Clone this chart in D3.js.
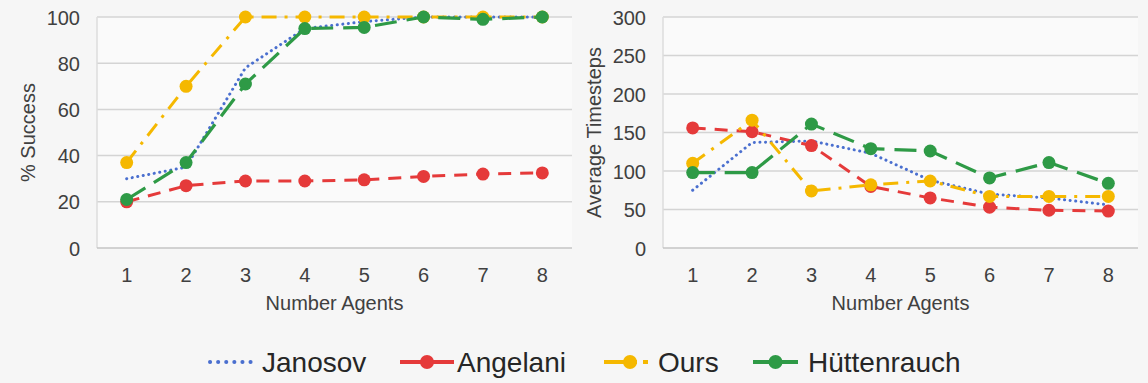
<!DOCTYPE html>
<html><head><meta charset="utf-8">
<script src="https://cdn.jsdelivr.net/npm/d3@7/dist/d3.min.js"></script>
<style>
html,body{margin:0;padding:0;background:#f6f6f6;}
svg{display:block;font-family:"Liberation Sans",Arial,sans-serif;}
</style></head><body>
<svg id="chart" width="1148" height="383"></svg>
<script>
const categories = ["1","2","3","4","5","6","7","8"];
const seriesNames = ["Janosov","Angelani","Ours","Hüttenrauch"];
// % Success
const successJanosov     = [30, 35, 78, 95, 98, 100, 100, 100];
const successAngelani    = [20, 27, 29, 29, 29.5, 31, 32, 32.5];
const successOurs        = [37, 70, 100, 100, 100, 100, 100, 100];
const successHuttenrauch = [21, 37, 71, 95, 95.5, 100, 99, 100];
// Average Timesteps
const stepsJanosov     = [75, 137, 139, 123, 88, 70, 65, 56];
const stepsAngelani    = [156, 151, 133, 80, 65, 53, 49, 48];
const stepsOurs        = [110, 166, 74, 82, 87, 67, 67, 67];
const stepsHuttenrauch = [98, 98, 161, 129, 126, 91, 111, 84];
const successTicks = [0, 20, 40, 60, 80, 100];
const stepsTicks = [0, 50, 100, 150, 200, 250, 300];

const styles = {
  "Janosov":     {color:"#4a6fcf", dash:"0.1 5.5", width:3, cap:"round", marker:false},
  "Angelani":    {color:"#e53a3a", dash:"13 9", width:3, cap:"butt", marker:true},
  "Ours":        {color:"#f5b800", dash:"15 8 3 8", width:3, cap:"butt", marker:true},
  "Hüttenrauch": {color:"#2e9a46", dash:"22 10", width:3.2, cap:"butt", marker:true}
};

const svg = d3.select("#chart");
const textColor = "#404040";

function panel(opts){
  const {x0, x1, yTop, yBot, domainMax, ticks, data, title, tickRight, titleX} = opts;
  const x = d3.scaleBand().domain(categories).range([x0, x1]).padding(0);
  const y = d3.scaleLinear().domain([0, domainMax]).range([yBot, yTop]);
  const g = svg.append("g");
  g.append("rect").attr("x", x0).attr("y", yTop).attr("width", x1 - x0).attr("height", yBot - yTop)
    .attr("fill", "#fafafa");
  // gridlines
  g.selectAll("line.grid").data(ticks.filter(t => t > 0)).enter().append("line")
    .attr("x1", x0).attr("x2", x1).attr("y1", d => y(d)).attr("y2", d => y(d))
    .attr("stroke", "#d4d4d4").attr("stroke-width", 1.5);
  g.append("line").attr("x1", x0).attr("x2", x0).attr("y1", yTop).attr("y2", yBot)
    .attr("stroke", "#dcdcdc").attr("stroke-width", 1.5);
  g.append("line").attr("x1", x0).attr("x2", x1).attr("y1", yBot).attr("y2", yBot)
    .attr("stroke", "#c4c4c4").attr("stroke-width", 1.5);
  // y axis
  const ya = d3.axisLeft(y).tickValues(ticks).tickSize(0).tickPadding(0);
  const yg = g.append("g").attr("transform", `translate(${tickRight},0)`).call(ya);
  yg.select(".domain").remove();
  yg.selectAll("text").attr("font-size", 20).attr("fill", textColor)
    .attr("font-family", "Liberation Sans, Arial, sans-serif").attr("dy", "0.35em");
  // x axis
  const xa = d3.axisBottom(x).tickSize(0).tickPadding(0);
  const xg = g.append("g").attr("transform", `translate(0,${yBot})`).call(xa);
  xg.select(".domain").remove();
  xg.selectAll("text").attr("font-size", 20).attr("fill", textColor)
    .attr("font-family", "Liberation Sans, Arial, sans-serif").attr("dy", null).attr("y", 34);
  g.append("text").attr("x", (x0 + x1) / 2).attr("y", 310).attr("text-anchor", "middle")
    .attr("font-size", 20).attr("fill", textColor).text("Number Agents");
  g.append("text").attr("transform", `translate(${titleX},${(yTop + yBot) / 2}) rotate(-90)`)
    .attr("text-anchor", "middle").attr("font-size", 20).attr("fill", textColor).text(title);
  const cx = d => x(d) + x.bandwidth() / 2;
  const line = d3.line().x((d, i) => cx(categories[i])).y(d => y(d));
  seriesNames.forEach((name, si) => {
    const st = styles[name];
    const vals = data[si];
    g.append("path").attr("d", line(vals)).attr("fill", "none")
      .attr("stroke", st.color).attr("stroke-width", st.width)
      .attr("stroke-dasharray", st.dash).attr("stroke-linecap", st.cap);
    if (st.marker) {
      g.selectAll(null).data(vals).enter().append("circle")
        .attr("cx", (d, i) => cx(categories[i])).attr("cy", d => y(d)).attr("r", 6.5)
        .attr("fill", st.color);
    }
  });
}

panel({x0: 97, x1: 572, yTop: 17, yBot: 248, domainMax: 100, ticks: successTicks,
  data: [successJanosov, successAngelani, successOurs, successHuttenrauch],
  title: "% Success", tickRight: 80, titleX: 35});
panel({x0: 663, x1: 1138, yTop: 17, yBot: 248, domainMax: 300, ticks: stepsTicks,
  data: [stepsJanosov, stepsAngelani, stepsOurs, stepsHuttenrauch],
  title: "Average Timesteps", tickRight: 646, titleX: 601});

// legend
const legendItems = [
  {name: "Janosov", lx0: 210, lx1: 258, tx: 262},
  {name: "Angelani", lx0: 400, lx1: 454, tx: 457},
  {name: "Ours", lx0: 604, lx1: 648, tx: 658},
  {name: "Hüttenrauch", lx0: 753, lx1: 798, tx: 808}
];
const lg = svg.append("g");
legendItems.forEach(it => {
  const st = styles[it.name];
  const ly = 362;
  lg.append("line").attr("x1", it.lx0).attr("x2", it.lx1).attr("y1", ly).attr("y2", ly)
    .attr("stroke", st.color).attr("stroke-width", st.name === "Janosov" ? 3 : 4)
    .attr("stroke-dasharray", it.name === "Janosov" ? "0.1 8" : (it.name === "Ours" ? "24 6 3 6" : null))
    .attr("stroke-linecap", it.name === "Janosov" ? "round" : "butt");
  if (st.marker) {
    lg.append("circle").attr("cx", (it.lx0 + it.lx1) / 2 + (it.name === "Ours" ? 4 : 0)).attr("cy", ly).attr("r", 7)
      .attr("fill", st.color);
  }
  lg.append("text").attr("x", it.tx).attr("y", 372).attr("font-size", 28)
    .attr("fill", "#262626").text(it.name);
});
</script>
</body></html>
